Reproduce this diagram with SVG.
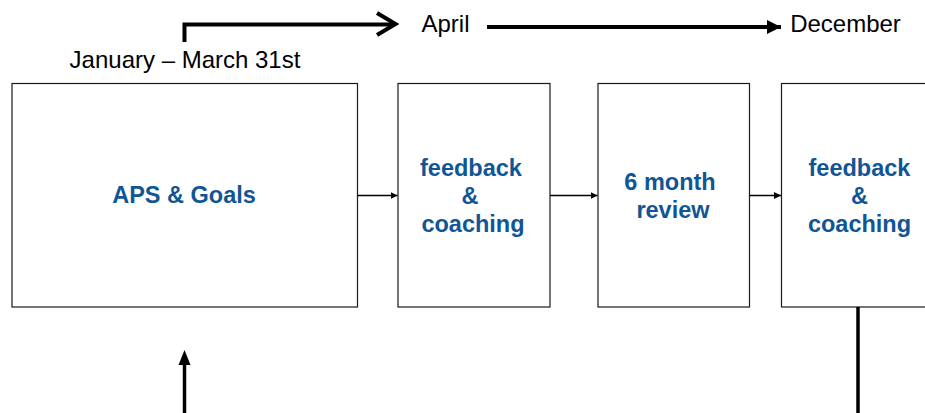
<svg xmlns="http://www.w3.org/2000/svg" width="925" height="413" viewBox="0 0 925 413">
<style>
.box{fill:#fff;stroke:#1a1a1a;stroke-width:1.2}
.lbl{font-family:"Liberation Sans",Arial,sans-serif;font-weight:bold;font-size:23.5px;fill:#105696;text-anchor:middle}
.t{font-family:"Liberation Sans",Arial,sans-serif;font-size:24px;fill:#000;text-anchor:middle}
.thin{stroke:#000;stroke-width:1.5;fill:none}
.thick{stroke:#000;stroke-width:4;fill:none}
</style>
<defs>
<marker id="sm" markerWidth="8" markerHeight="8" refX="7" refY="4" orient="auto" markerUnits="userSpaceOnUse">
<path d="M0,0.5 L7,4 L0,7.5 Z" fill="#000"/>
</marker>
<marker id="big" markerWidth="16" markerHeight="16" refX="14" refY="7" orient="auto" markerUnits="userSpaceOnUse">
<path d="M0,0 L14,7 L0,14 Z" fill="#000"/>
</marker>
</defs>
<g id="n1"><rect class="box" x="12" y="83.5" width="345.5" height="223.5"/><text class="lbl" x="184" y="203">APS &amp; Goals</text></g>
<g id="n2"><rect class="box" x="398" y="83.5" width="152" height="223.5"/><text class="lbl"><tspan x="471" y="176">feedback</tspan><tspan x="470" y="204">&amp;</tspan><tspan x="473" y="232">coaching</tspan></text></g>
<g id="n3"><rect class="box" x="598" y="83.5" width="151.5" height="223.5"/><text class="lbl"><tspan x="670" y="190">6 month</tspan><tspan x="673" y="218">review</tspan></text></g>
<g id="n4"><rect class="box" x="781.5" y="83.5" width="152" height="223.5"/><text class="lbl"><tspan x="859.5" y="176">feedback</tspan><tspan x="859.5" y="204">&amp;</tspan><tspan x="859.5" y="232">coaching</tspan></text></g>
<g id="labels">
<text class="t" x="185" y="68">January – March 31st</text>
<text class="t" x="445.5" y="32">April</text>
<text class="t" x="845.5" y="32">December</text>
</g>
<g id="connectors">
<line class="thin" x1="357.5" y1="195.5" x2="397.5" y2="195.5" marker-end="url(#sm)"/>
<line class="thin" x1="550" y1="195.5" x2="597.5" y2="195.5" marker-end="url(#sm)"/>
<line class="thin" x1="749.5" y1="195.5" x2="781" y2="195.5" marker-end="url(#sm)"/>
<path class="thick" d="M184.5,42 V24.5 H395"/>
<path d="M377,13 L395.5,24 L377,35" fill="none" stroke="#000" stroke-width="4" stroke-linejoin="miter"/>
<line class="thick" x1="487" y1="27" x2="781" y2="27" marker-end="url(#big)"/>
<line x1="184.5" y1="413" x2="184.5" y2="364" stroke="#000" stroke-width="3.5"/>
<path d="M178.5,365 L184.5,350 L190.5,365 Z" fill="#000"/>
<line x1="858" y1="307" x2="858" y2="413" stroke="#000" stroke-width="3.5"/>
</g>
</svg>
